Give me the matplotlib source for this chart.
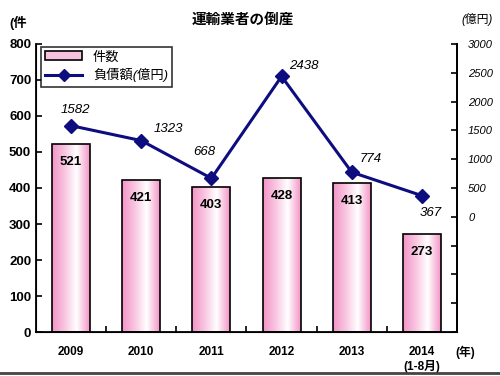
import numpy as np
import matplotlib.pyplot as plt
from matplotlib.colors import LinearSegmentedColormap
from matplotlib.lines import Line2D
from matplotlib.patches import Patch

plt.rcParams['font.family'] = ['Liberation Sans', 'Noto Sans CJK JP']

years = ["2009", "2010", "2011", "2012", "2013", "2014\n(1-8月)"]
counts = [521, 421, 403, 428, 413, 273]
debt = [1582, 1323, 668, 2438, 774, 367]
# label offsets (pixels) for the debt values
debt_offsets = [(4, 16), (27, 12), (-7, 26), (22, 10), (19, 13), (9, -17)]

x = np.arange(len(years))

fig = plt.figure(figsize=(5, 3.76), dpi=100)
ax = fig.add_axes([0.072, 0.117, 0.842, 0.766])

# bars with a horizontal pink/white gradient
pink = "#f394c6"
cmap = LinearSegmentedColormap.from_list("pk", [(0, pink), (0.3, "#f8c0de"), (0.65, "white"), (1, pink)])
grad = np.linspace(0, 1, 256).reshape(1, -1)
bars = ax.bar(x, counts, width=0.54, color="none", edgecolor="black", linewidth=1.2, zorder=3)
for b in bars:
    im = ax.imshow(grad, cmap=cmap, aspect="auto", zorder=2,
                   extent=[b.get_x(), b.get_x() + b.get_width(), 0, b.get_height()])
    im.set_clip_path(b)
for xi, c in zip(x, counts):
    ax.annotate(str(c), (xi, c), xytext=(0, -18), textcoords="offset pixels",
                ha="center", va="center", fontsize=9.5, fontweight="bold", zorder=4)

ax.set_xlim(-0.5, len(years) - 0.5)
ax.set_ylim(0, 800)
ax.set_yticks(range(0, 801, 100))
ax.set_xticks(x)
ax.set_xticklabels(years, fontsize=8.5, fontweight="bold")
ax.set_xticks(np.arange(0.5, len(years) - 1, 1), minor=True)
ax.tick_params(axis="x", which="major", length=0, pad=10)
ax.tick_params(axis="x", which="minor", direction="in", length=4, width=1.2)
ax.tick_params(axis="y", direction="in", length=4, width=1.2, labelsize=9.5)
for lbl in ax.get_yticklabels():
    lbl.set_fontweight("bold")
ax.spines["top"].set_visible(False)
for s in ["left", "bottom", "right"]:
    ax.spines[s].set_linewidth(1.3)

ax2 = ax.twinx()
ax2.plot(x, debt, color="#0d0d80", linewidth=2.2, marker="D", markersize=7, zorder=5)
for xi, d, off in zip(x, debt, debt_offsets):
    ax2.annotate(str(d), (xi, d), xytext=off, textcoords="offset pixels",
                 ha="center", va="center", fontsize=9.5, fontstyle="italic")
ax2.set_ylim(-2000, 3000)
ticks = list(range(-2000, 3001, 500))
ax2.set_yticks(ticks)
ax2.set_yticklabels([str(t) if t >= 0 else "" for t in ticks], fontsize=8, fontstyle="italic")
ax2.tick_params(axis="y", direction="in", length=4, width=1.2, pad=8)
ax2.spines["top"].set_visible(False)
ax2.spines["right"].set_linewidth(1.3)
ax.set_zorder(ax2.get_zorder() - 1)
ax2.patch.set_visible(False)

handles = [Patch(facecolor="#f7c2de", edgecolor="black", linewidth=1.2),
           Line2D([], [], color="#0d0d80", linewidth=2.2, marker="D", markersize=6)]
leg = ax2.legend(handles, ["件数", "負債額(億円)"], loc="upper left",
                 bbox_to_anchor=(0.005, 1.0), fontsize=9.5, frameon=True, fancybox=False,
                 edgecolor="black", borderpad=0.35, handlelength=2.8, labelspacing=0.35,
                 borderaxespad=0.2)
leg.get_frame().set_linewidth(1.2)
leg.get_texts()[1].set_fontstyle("italic")

fig.text(0.486, 0.947, "運輸業者の倒産", ha="center", va="center", fontsize=10.5, fontweight="bold")
fig.text(0.036, 0.939, "(件", ha="center", va="center", fontsize=9.5, fontweight="bold")
fig.text(0.954, 0.947, "(億円)", ha="center", va="center", fontsize=8.5, fontstyle="italic")
fig.text(0.93, 0.064, "(年)", ha="center", va="center", fontsize=8.5, fontweight="bold")
fig.add_artist(Line2D([0, 1], [0.008, 0.008], color="#444444", linewidth=2, transform=fig.transFigure))

fig.savefig("out.png", dpi=100)
